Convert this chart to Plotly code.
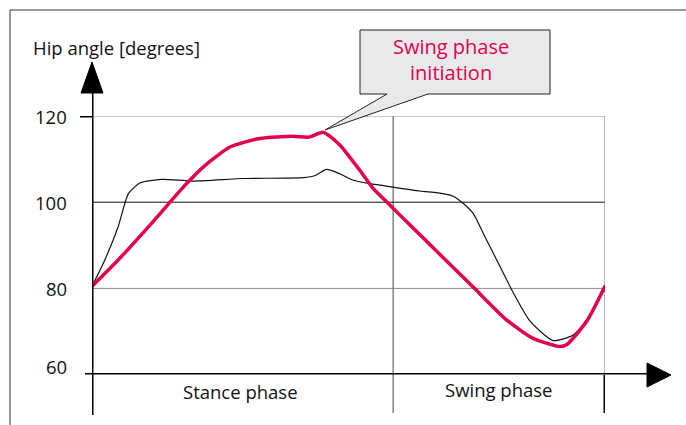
import plotly.graph_objects as go

# ---- data (gait cycle %, hip angle in degrees) ----
cycle_red = [0, 5.1, 11.6, 18.1, 22, 26.9, 32.7, 39.2, 42.2, 45.1, 48.3, 52.2, 54.8, 58.1, 61.3,
             67.2, 74.3, 80.8, 86, 91.2, 92.5, 96.4, 100]
hip_red = [80.5, 86.6, 95.1, 103.9, 108.5, 112.8, 114.8, 115.3, 115.1, 116.2, 113.3, 107.4, 103.2, 99.3, 95.5,
           88.6, 80.3, 72.7, 68.4, 66.5, 66.9, 72.3, 80.5]

cycle_black = [0, 2.5, 5.1, 7.1, 9.4, 13.6, 19.7, 29.5, 41.2, 43.5, 45.7, 48.3, 50.9, 54.2, 58.7, 63.9,
               68.4, 70.4, 72.4, 74.3, 76.3, 79.9, 82.2, 85.4, 89.9, 93.8, 96.4, 100]
hip_black = [80.5, 86.6, 94.3, 102, 104.5, 105.3, 104.9, 105.5, 105.7, 106.2, 107.6, 106.6, 105.1, 104.3, 103.5, 102.6,
             102, 101.4, 99.7, 97.4, 92.7, 84.2, 78.8, 72.4, 67.9, 69.2, 72.7, 80.8]

y_ticks = [60, 80, 100, 120]
y_tick_labels = ["60", "80", "100", "120"]
phase_split = 58.7
phase_labels = ["Stance phase", "Swing phase"]
y_title = "Hip angle [degrees]"
callout_text = "Swing phase<br>initiation"

W, H = 686, 425
RED = "#e2004b"
FONT = "Open Sans"
FS = 18.5

def X(px):
    return px / W

def Y(py):
    return 1 - py / H

fig = go.Figure()
fig.add_trace(go.Scatter(x=cycle_black, y=hip_black, mode="lines",
                         line=dict(color="#111111", width=1.2, shape="spline", smoothing=0.6),
                         hoverinfo="skip", showlegend=False))
fig.add_trace(go.Scatter(x=cycle_red, y=hip_red, mode="lines",
                         line=dict(color=RED, width=3.5, shape="spline", smoothing=0.6),
                         hoverinfo="skip", showlegend=False))

shapes = []
# outer frame
shapes.append(dict(type="line", xref="paper", yref="paper", x0=X(10), x1=X(10), y0=Y(10), y1=0,
                   line=dict(color="#333", width=1)))
shapes.append(dict(type="line", xref="paper", yref="paper", x0=X(10), x1=1, y0=Y(10), y1=Y(10),
                   line=dict(color="#333", width=1)))
# gridlines
for v in y_ticks[1:]:
    shapes.append(dict(type="line", xref="x", yref="y", x0=0, x1=100, y0=v, y1=v, layer="below",
                       line=dict(color="#111" if v == 100 else "#8a8a8a", width=1)))
# right border and phase divider
shapes.append(dict(type="line", xref="x", yref="y", x0=100, x1=100, y0=60, y1=120, layer="below",
                   line=dict(color="#777", width=1)))
shapes.append(dict(type="line", xref="x", yref="paper", x0=phase_split, x1=phase_split,
                   y0=Y(413), y1=Y(116), layer="below", line=dict(color="#444", width=1)))
# axes
shapes.append(dict(type="line", xref="x", yref="paper", x0=0, x1=0, y0=Y(415), y1=Y(88),
                   line=dict(color="black", width=3)))
shapes.append(dict(type="path", xref="paper", yref="paper",
                   path=f"M {X(92)},{Y(62)} L {X(103)},{Y(93)} L {X(81)},{Y(93)} Z",
                   fillcolor="black", line=dict(color="black", width=1)))
shapes.append(dict(type="line", xref="paper", yref="y", x0=X(85), x1=X(652), y0=60, y1=60,
                   line=dict(color="black", width=3)))
shapes.append(dict(type="path", xref="paper", yref="paper",
                   path=f"M {X(671)},{Y(375)} L {X(647)},{Y(363)} L {X(647)},{Y(387)} Z",
                   fillcolor="black", line=dict(color="black", width=1)))
shapes.append(dict(type="line", xref="x", yref="paper", x0=100, x1=100, y0=Y(413), y1=Y(375),
                   line=dict(color="black", width=3)))
shapes.append(dict(type="line", xref="paper", yref="y", x0=X(80), x1=X(92), y0=120, y1=120,
                   line=dict(color="black", width=3)))
# callout box with pointer
shapes.append(dict(type="path", xref="paper", yref="paper",
                   path=(f"M {X(360)},{Y(30)} L {X(550)},{Y(30)} L {X(550)},{Y(94)} L {X(428)},{Y(94)} "
                         f"L {X(325)},{Y(130)} L {X(387)},{Y(94)} L {X(360)},{Y(94)} Z"),
                   fillcolor="#e8e9ea", line=dict(color="#222", width=1)))

annotations = []
for v, t in zip(y_ticks, y_tick_labels):
    annotations.append(dict(x=X(69), y=v, xref="paper", yref="y", text=t, showarrow=False,
                            xanchor="right", yanchor="middle", yshift=8 if v == 60 else 0,
                            font=dict(family=FONT, size=FS, color="#111")))
annotations.append(dict(x=X(31), y=Y(47), xref="paper", yref="paper", text=y_title, showarrow=False,
                        xanchor="left", yanchor="middle", font=dict(family=FONT, size=FS, color="#111")))
annotations.append(dict(x=phase_split / 2 - 0.5, y=Y(391), xref="x", yref="paper", text=phase_labels[0],
                        showarrow=False, xanchor="center", yanchor="middle",
                        font=dict(family=FONT, size=FS, color="#111")))
annotations.append(dict(x=(phase_split + 100) / 2, y=Y(389), xref="x", yref="paper", text=phase_labels[1],
                        showarrow=False, xanchor="center", yanchor="middle",
                        font=dict(family=FONT, size=FS, color="#111")))
annotations.append(dict(x=X(451), y=Y(60), xref="paper", yref="paper", text=callout_text,
                        showarrow=False, xanchor="center", yanchor="middle",
                        font=dict(family=FONT, size=20, color=RED)))

fig.update_layout(
    width=W, height=H, margin=dict(l=0, r=0, t=0, b=0),
    paper_bgcolor="white", plot_bgcolor="white",
    xaxis=dict(domain=[X(92), X(605)], range=[0, 100], visible=False, fixedrange=True),
    yaxis=dict(domain=[Y(374.6), Y(116)], range=[60, 120], visible=False, fixedrange=True),
    shapes=shapes, annotations=annotations, showlegend=False,
)
fig.write_html("out.html", config={"displayModeBar": False},
               post_script="document.body.style.margin='0';")
